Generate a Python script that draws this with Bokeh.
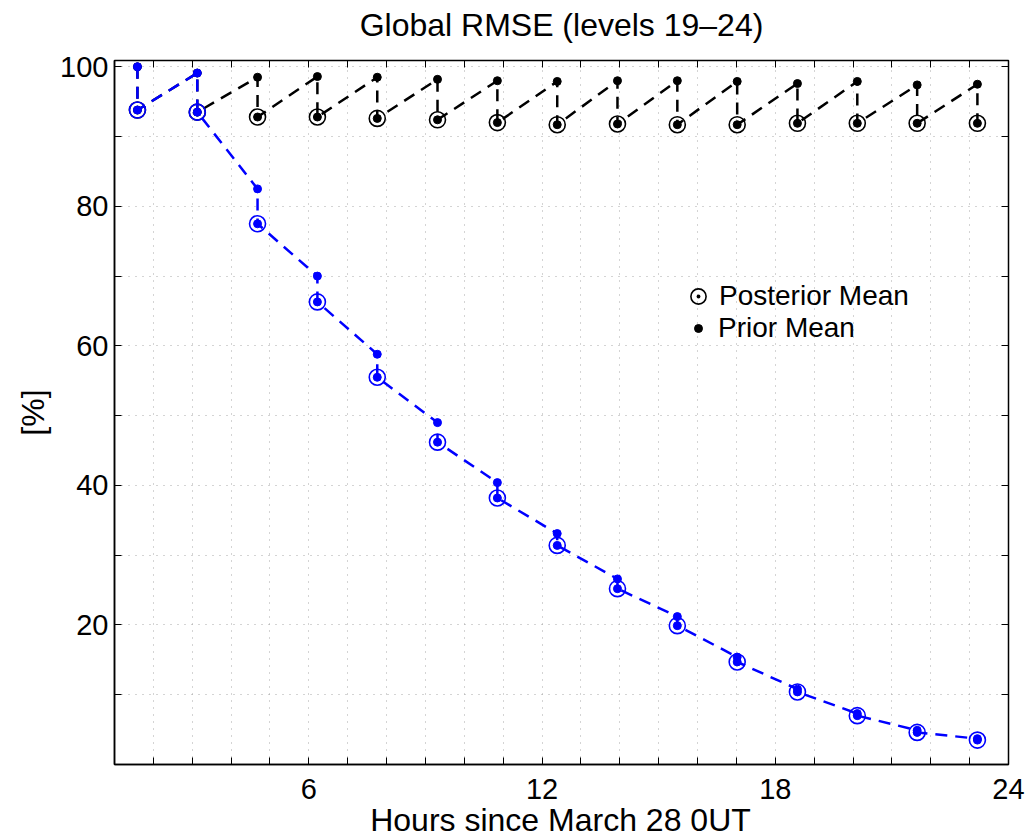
from bokeh.plotting import figure
from bokeh.models import Range1d, LinearAxis, FixedTicker, Legend, LegendItem, Label
from bokeh.embed import file_html
from bokeh.resources import INLINE

# ---------------- data ----------------
hours = [1.59, 3.13, 4.68, 6.22, 7.76, 9.31, 10.85, 12.39, 13.94, 15.48,
         17.02, 18.57, 20.11, 21.65, 23.20]

blue_prior = [100.0, 99.1, 82.5, 70.0, 58.8, 49.0, 40.4, 33.1, 26.6, 21.2,
              15.4, 10.8, 7.3, 4.9, 3.7]
blue_post = [93.8, 93.5, 77.5, 66.3, 55.5, 46.2, 38.2, 31.4, 25.2, 19.9,
             14.7, 10.4, 7.0, 4.6, 3.5]

black_prior = [100.0, 99.1, 98.5, 98.6, 98.5, 98.2, 98.0, 97.9, 98.0, 98.0,
               97.9, 97.6, 97.9, 97.4, 97.5]
black_post = [93.8, 93.5, 92.8, 92.8, 92.6, 92.4, 92.0, 91.7, 91.8, 91.7,
              91.7, 91.9, 91.9, 91.9, 91.9]

x_ticks = list(range(2, 25))
x_tick_labels = {6: "6", 12: "12", 18: "18", 24: "24"}
y_ticks = list(range(10, 101, 10))
y_tick_labels = {20: "20", 40: "40", 60: "60", 80: "80", 100: "100"}

title_text = "Global RMSE (levels 19\u201324)"
x_label = "Hours since March 28 0UT"
y_label = "[%]"
legend_labels = ["Posterior Mean", "Prior Mean"]

FONT = "Liberation Sans"


def sawtooth(t, prior, post):
    xs, ys = [], []
    for ti, a, b in zip(t, prior, post):
        xs += [ti, ti]
        ys += [a, b]
    return xs, ys


p = figure(width=1026, height=839,
           x_range=Range1d(1, 24), y_range=Range1d(0, 100.9),
           output_backend="svg", toolbar_location=None,
           min_border_left=114, min_border_right=18,
           min_border_top=60, min_border_bottom=75)

p.background_fill_color = "white"
p.border_fill_color = "white"
p.outline_line_color = "black"
p.outline_line_width = 1.5

# axes
xov = {v: x_tick_labels.get(v, "") for v in x_ticks}
yov = {v: y_tick_labels.get(v, "") for v in y_ticks}

xa = p.xaxis[0]
xa.ticker = FixedTicker(ticks=x_ticks)
xa.major_label_overrides = xov
ya = p.yaxis[0]
ya.ticker = FixedTicker(ticks=y_ticks)
ya.major_label_overrides = yov

for ax in (xa, ya):
    ax.major_tick_in = 7
    ax.major_tick_out = 0
    ax.minor_tick_in = 0
    ax.minor_tick_out = 0
    ax.major_tick_line_color = "black"
    ax.major_tick_line_width = 1
    ax.axis_line_color = "black"
    ax.axis_line_width = 1.5
    ax.major_label_text_font = FONT
    ax.major_label_text_font_size = "29px"
    ax.major_label_text_color = "black"
    ax.axis_label_text_font = FONT
    ax.axis_label_text_font_size = "32px"
    ax.axis_label_text_font_style = "normal"
    ax.axis_label_text_color = "black"

xa.major_label_standoff = 14
ya.axis_label = y_label
ya.major_label_standoff = 6
ya.axis_label_standoff = 6

# box ticks on top and right
top_ax = LinearAxis(ticker=FixedTicker(ticks=x_ticks), major_tick_in=7, major_tick_out=0,
                    minor_tick_in=0, minor_tick_out=0, axis_line_color=None,
                    major_label_text_font_size="0px", major_label_standoff=0)
right_ax = LinearAxis(ticker=FixedTicker(ticks=y_ticks), major_tick_in=7, major_tick_out=0,
                      minor_tick_in=0, minor_tick_out=0, axis_line_color=None,
                      major_label_text_font_size="0px", major_label_standoff=0)
p.add_layout(top_ax, "above")
p.add_layout(right_ax, "right")

# title and x label as side-panel annotations
p.add_layout(Label(x=447, y=36, x_units="screen", y_units="screen", text=title_text,
                   text_font=FONT, text_font_size="32px", text_align="center",
                   text_baseline="middle", text_color="black"), "above")
p.add_layout(Label(x=446, y=18, x_units="screen", y_units="screen", text=x_label,
                   text_font=FONT, text_font_size="32px", text_align="center",
                   text_baseline="middle", text_color="black"), "below")

# grid
p.xgrid.ticker = FixedTicker(ticks=x_ticks)
p.ygrid.ticker = FixedTicker(ticks=y_ticks)
for g in (p.xgrid, p.ygrid):
    g.grid_line_color = "#a8a8a8"
    g.grid_line_dash = "1 6"
    g.grid_line_width = 1

# ---------------- series ----------------
def draw_series(color, prior, post):
    xs, ys = sawtooth(hours, prior, post)
    p.line(xs, ys, line_color=color, line_width=2.5, line_dash="12 8")
    ring = p.scatter(hours, post, marker="circle_dot", size=16, fill_color=None,
                     line_color=color, line_width=1.6)
    p.scatter(hours, post, marker="circle", size=8, fill_color=color, line_color=color)
    dots = p.scatter(hours, prior, marker="circle", size=8, fill_color=color,
                     line_color=color)
    return ring, dots


black_ring, black_dots = draw_series("black", black_prior, black_post)
draw_series("#0000ff", blue_prior, blue_post)

# ---------------- legend ----------------
common = dict(border_line_color=None, background_fill_alpha=0, padding=0, margin=0,
              spacing=0, label_text_font=FONT, label_text_font_size="28px",
              label_text_color="black")
leg_a = Legend(items=[LegendItem(label=legend_labels[0], renderers=[black_ring])],
               location=(565, 449), glyph_width=38, glyph_height=38, label_height=38,
               label_standoff=2, **common)
leg_b = Legend(items=[LegendItem(label=legend_labels[1], renderers=[black_dots])],
               location=(574, 420), glyph_width=20, glyph_height=32, label_height=32,
               label_standoff=10, **common)
p.add_layout(leg_a)
p.add_layout(leg_b)

open("out.html", "w").write(file_html(p, INLINE))
